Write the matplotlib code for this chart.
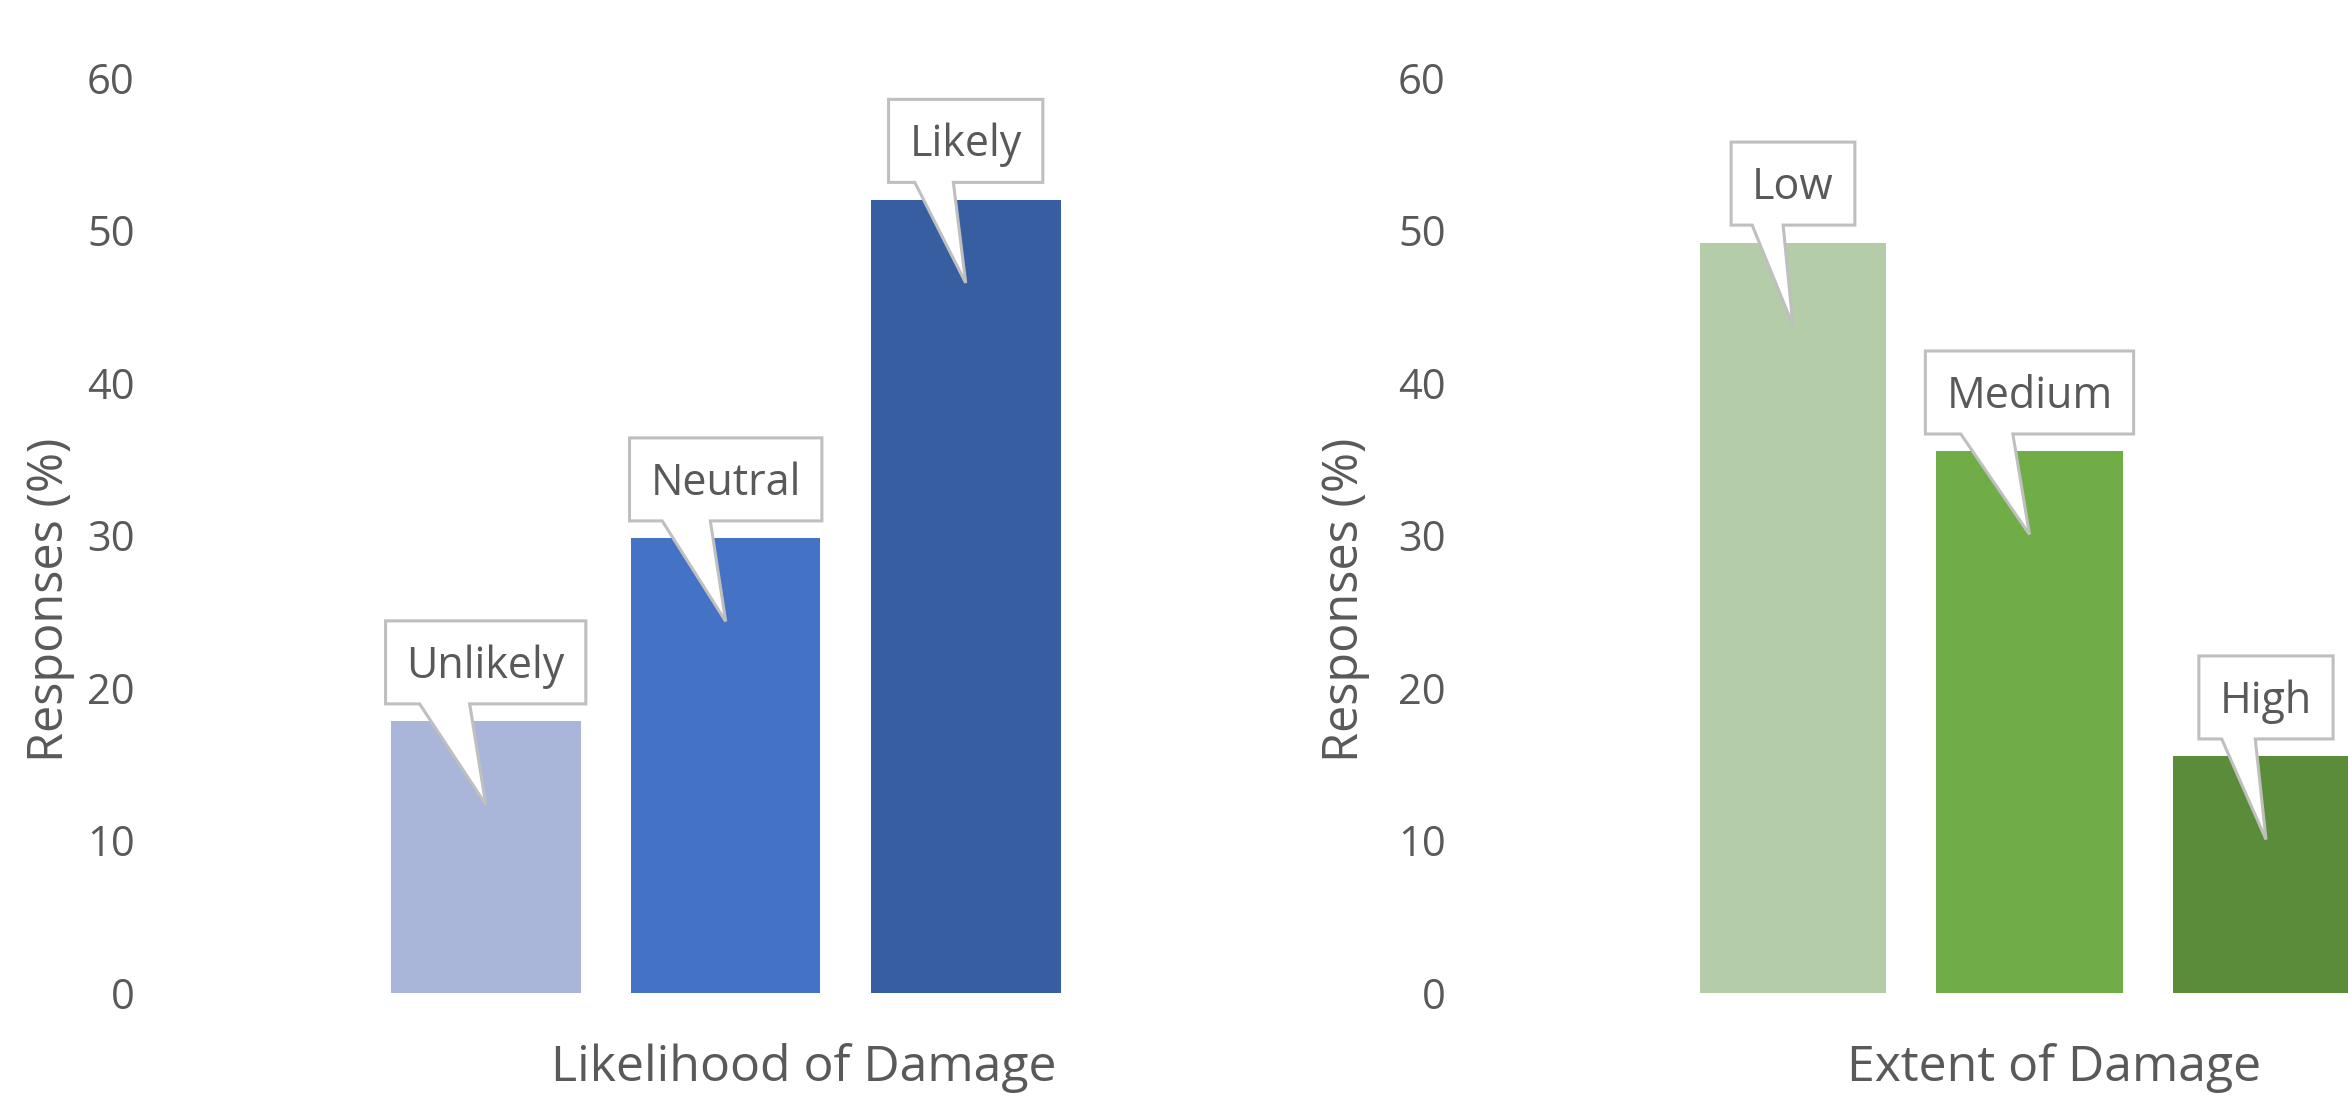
import matplotlib
matplotlib.use('Agg')
import matplotlib.pyplot as plt
from matplotlib.patches import Polygon

# survey responses, percent of respondents
likelihood_cats = ['Unlikely', 'Neutral', 'Likely']
likelihood_pct = [17.8, 29.8, 52.0]
likelihood_colors = ['#a9b6da', '#4472c4', '#365ea0']

extent_cats = ['Low', 'Medium', 'High']
extent_pct = [49.2, 35.5, 15.5]
extent_colors = ['#b4cda8', '#70ad47', '#5a8c3a']

y_ticks = [0, 10, 20, 30, 40, 50, 60]

W, H, DPI = 2348, 1101, 100
TEXT = '#595959'
EDGE = '#bfbfbf'

plt.rcParams['font.family'] = ['Open Sans', 'DejaVu Sans']

fig = plt.figure(figsize=(W / DPI, H / DPI), dpi=DPI)
fig.patch.set_facecolor('white')

Y0_PX, Y60_PX = 992.8, 77.9   # pixel rows (from top) of 0 and 60


def px_axes(left, right):
    return fig.add_axes([left / W, 1 - Y0_PX / H, (right - left) / W, (Y0_PX - Y60_PX) / H])


def bar_panel(ax, cats, values, colors, first_px, step_px, left_px, right_px,
              xlabel, xlabel_px, ylabel_px):
    x = list(range(len(cats)))
    ax.bar(x, values, width=0.79, color=colors, linewidth=0, zorder=2)
    ax.set_xlim(-(first_px - left_px) / step_px, (right_px - first_px) / step_px)
    ax.set_ylim(0, 60)
    ax.set_yticks(y_ticks)
    ax.set_xticks([])
    for s in ax.spines.values():
        s.set_visible(False)
    ax.tick_params(axis='y', length=0, pad=11, labelsize=30, labelcolor=TEXT)

    ax.set_ylabel('Responses (%)', fontsize=35, color=TEXT)
    ax.yaxis.set_label_coords((ylabel_px - left_px) / (right_px - left_px), 0.43)

    fig.text(xlabel_px / W, 1 - 1081 / H, xlabel, fontsize=36, color=TEXT,
             ha='center', va='baseline')
    return x


def callouts(ax, x, values, cats):
    fig.canvas.draw()
    renderer = fig.canvas.get_renderer()
    inv = ax.transData.inverted()
    fs = 31
    cap = 0.714 * fs * DPI / 72
    for xi, v, lab in zip(x, values, cats):
        cx, top = ax.transData.transform((xi, v))
        t = ax.text(xi, v, lab, fontsize=fs, color=TEXT, ha='center', va='baseline',
                    zorder=5, clip_on=False)
        tw = t.get_window_extent(renderer).width
        bw = tw + 42
        bb = top + 17.5
        bt = bb + 83
        L, R = cx - bw / 2, cx + bw / 2
        tip = (cx, top - 83)
        pts = [(L, bt), (R, bt), (R, bb), (L + 0.42 * bw, bb), tip,
               (L + 0.17 * bw, bb), (L, bb)]
        poly = Polygon(inv.transform(pts), closed=True, facecolor='white',
                       edgecolor=EDGE, linewidth=2.2, zorder=4, clip_on=False,
                       joinstyle='miter')
        ax.add_patch(poly)
        t.set_position(inv.transform((cx, (bb + bt) / 2 - cap / 2)))


ax1 = px_axes(150, 1200)
x1 = bar_panel(ax1, likelihood_cats, likelihood_pct, likelihood_colors,
               485.7, 240.0, 150, 1200, 'Likelihood of Damage', 804, 75)

ax2 = px_axes(1461, 2348)
x2 = bar_panel(ax2, extent_cats, extent_pct, extent_colors,
               1793.0, 236.5, 1461, 2348, 'Extent of Damage', 2054, 1370)

callouts(ax1, x1, likelihood_pct, likelihood_cats)
callouts(ax2, x2, extent_pct, extent_cats)

fig.savefig('out.png', dpi=DPI, facecolor='white')
